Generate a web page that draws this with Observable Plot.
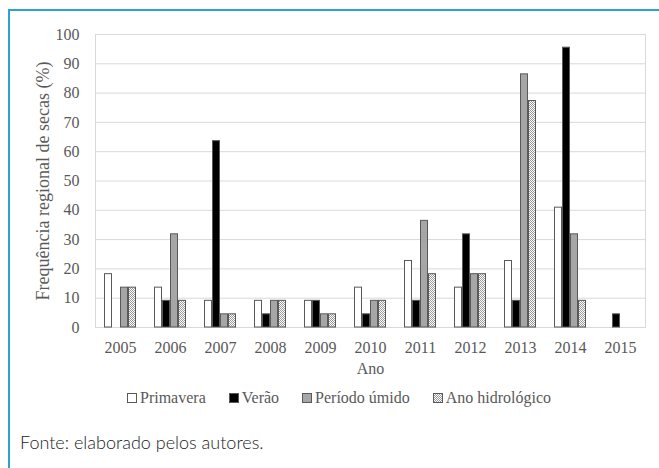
<!DOCTYPE html>
<html>
<head>
<meta charset="utf-8">
<script src="https://cdn.jsdelivr.net/npm/d3@7"></script>
<script src="https://cdn.jsdelivr.net/npm/@observablehq/plot@0.6"></script>
<style>
  html, body { margin: 0; padding: 0; background: #fff; }
  body { width: 659px; height: 468px; position: relative; overflow: hidden; }
  #border { position: absolute; left: 8px; top: 9px; right: 0; bottom: 0;
            border-left: 2px solid #2ba2d6; border-top: 2px solid #2ba2d6; pointer-events: none; }
  #chart { position: absolute; left: 0; top: 0; }
  #chart svg, #chart svg text { font-family: 'Liberation Serif', 'Times New Roman', 'DejaVu Serif', serif !important; }
  #legend { position: absolute; left: 127px; top: 389px; display: flex; align-items: center;
            font-family: 'Liberation Serif', 'Times New Roman', 'DejaVu Serif', serif; font-size: 16px; color: #595959; white-space: nowrap; }
  .item { display: flex; align-items: center; margin-right: 23px; }
  .sw { width: 8px; height: 8px; border: 1px solid #595959; margin-right: 3px; box-sizing: content-box; }
  #caption { position: absolute; left: 20px; top: 431px; font-family: Lato, sans-serif; font-weight: 300;
             font-size: 18px; color: #222; }
</style>
</head>
<body>
<div id="chart"></div>
<div id="legend"></div>
<div id="caption">Fonte: elaborado pelos autores.</div>
<div id="border"></div>
<script>
const years = ["2005","2006","2007","2008","2009","2010","2011","2012","2013","2014","2015"];
const series = ["Primavera","Verão","Período úmido","Ano hidrológico"];
const primavera = [18.2,13.6,9.1,9.1,9.1,13.6,22.7,13.6,22.7,40.9,0];
const verao     = [0,9.1,63.6,4.5,9.1,4.5,9.1,31.8,9.1,95.5,4.5];
const umido     = [13.6,31.8,4.5,9.1,4.5,9.1,36.4,18.2,86.4,31.8,0];
const anoHidro  = [13.6,9.1,4.5,9.1,4.5,9.1,18.2,18.2,77.3,9.1,0];
const yTicks = [0,10,20,30,40,50,60,70,80,90,100];
const fills = ["#ffffff","#000000","#a6a6a6","url(#hatch)"];

const valuesBySeries = [primavera, verao, umido, anoHidro];
const rows = [];
years.forEach((yr, i) => {
  series.forEach((s, j) => {
    const v = valuesBySeries[j][i];
    if (v > 0) rows.push({year: yr, series: s, value: v});
  });
});

const svg = Plot.plot({
  width: 659,
  height: 378,
  marginLeft: 93,
  marginRight: 13,
  marginTop: 34,
  marginBottom: 51,
  style: {fontSize: "16px", color: "#595959", background: "transparent", overflow: "visible"},
  facet: {data: rows, x: "year"},
  fx: {domain: years, paddingInner: 0, paddingOuter: 0, label: "Ano", labelAnchor: "center", labelOffset: 46, tickSize: 0, tickPadding: 14, labelArrow: "none"},
  x: {domain: series, axis: null, paddingInner: 0, paddingOuter: 0.8},
  y: {domain: [0, 100], ticks: yTicks, tickSize: 0, tickPadding: 16,
      label: "Frequência regional de secas (%)", labelAnchor: "center", labelOffset: 59, labelArrow: "none"},
  color: {domain: series, range: fills},
  marks: [
    Plot.ruleY(yTicks, {stroke: "#d9d9d9", strokeWidth: 1}),
    Plot.frame({facet: "super", stroke: "#d9d9d9"}),
    Plot.barY(rows, {x: "series", y: "value", fill: "series", stroke: "#595959", strokeWidth: 1, insetLeft: 0.5, insetRight: 0.5})
  ]
});

svg.querySelectorAll('[aria-label="y-axis label"] text, [aria-label="y-axis label"]').forEach(el => {
  el.style.fontSize = "18px";
});

const ns = "http://www.w3.org/2000/svg";
const defs = document.createElementNS(ns, "defs");
const pat = document.createElementNS(ns, "pattern");
pat.setAttribute("id", "hatch");
pat.setAttribute("patternUnits", "userSpaceOnUse");
pat.setAttribute("width", "2");
pat.setAttribute("height", "2");
[["0","0","2","2","#ffffff"],["0","0","1","1","#9a9a9a"],["1","1","1","1","#9a9a9a"]].forEach(([x,y,w,h,f]) => {
  const r = document.createElementNS(ns, "rect");
  r.setAttribute("x", x); r.setAttribute("y", y); r.setAttribute("width", w); r.setAttribute("height", h); r.setAttribute("fill", f);
  pat.appendChild(r);
});
defs.appendChild(pat);
svg.insertBefore(defs, svg.firstChild);
document.getElementById("chart").appendChild(svg);

const legend = document.getElementById("legend");
series.forEach((s, j) => {
  const item = document.createElement("div");
  item.className = "item";
  const sw = document.createElement("span");
  sw.className = "sw";
  if (j === 3) {
    sw.style.background = "repeating-conic-gradient(#9a9a9a 0% 25%, #ffffff 0% 50%) 0 0 / 2px 2px";
  } else {
    sw.style.background = fills[j];
  }
  item.appendChild(sw);
  const t = document.createElement("span");
  t.textContent = s;
  item.appendChild(t);
  legend.appendChild(item);
});
</script>
</body>
</html>
